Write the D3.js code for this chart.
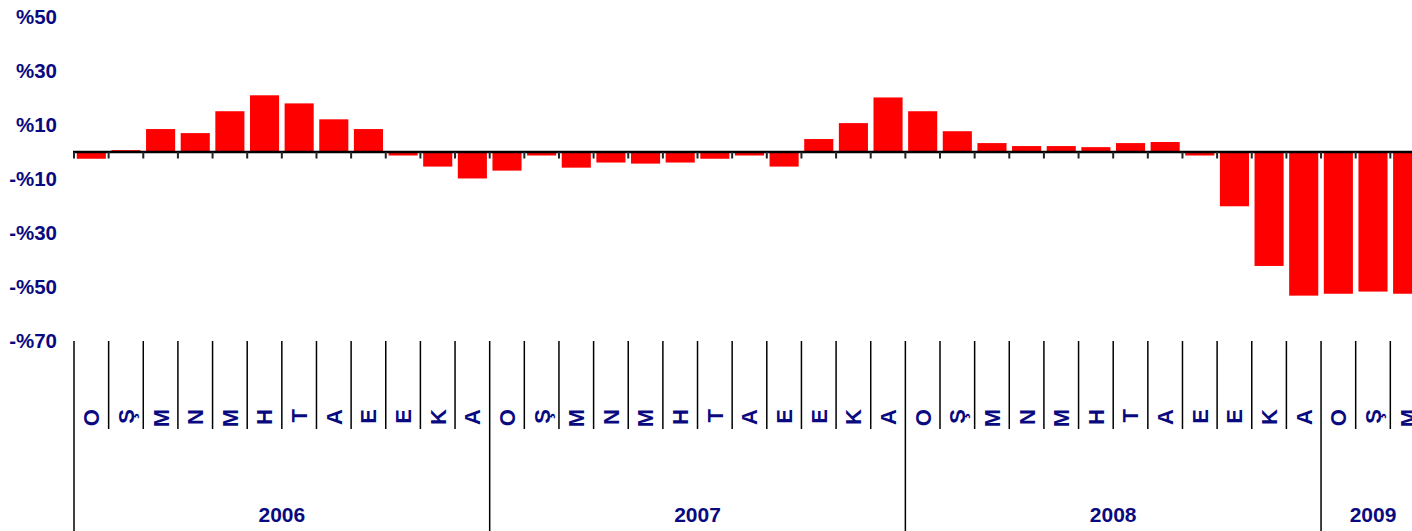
<!DOCTYPE html>
<html>
<head>
<meta charset="utf-8">
<script src="https://cdn.jsdelivr.net/npm/d3@7"></script>
<style>
  html, body { margin: 0; padding: 0; background: #fff; }
  svg { display: block; }
  text { font-family: "Liberation Sans", Arial, sans-serif; font-weight: bold; fill: #0a0a80; }
</style>
</head>
<body>
<svg id="chart" width="1412" height="531"></svg>
<script>
const years = ["2006", "2007", "2008", "2009"];
const monthLabels = ["O", "Ş", "M", "N", "M", "H", "T", "A", "E", "E", "K", "A"];
const values2006 = [-2.5, 0.7, 8.5, 7.0, 15.1, 21.0, 18.0, 12.1, 8.5, -1.3, -5.4, -9.8];
const values2007 = [-6.9, -1.3, -5.8, -3.9, -4.3, -3.9, -2.5, -1.3, -5.4, 4.8, 10.7, 20.2];
const values2008 = [15.1, 7.7, 3.3, 2.2, 2.2, 1.8, 3.3, 3.7, -1.3, -20.1, -42.2, -53.2];
const values2009 = [-52.5, -51.7, -52.5];
const yTicks = [50, 30, 10, -10, -30, -50, -70];

const seriesByYear = [values2006, values2007, values2008, values2009];
const data = [];
seriesByYear.forEach((vals, yi) => {
  vals.forEach((v, mi) => {
    data.push({ key: years[yi] + "-" + mi, year: years[yi], month: monthLabels[mi], value: v, idx: data.length });
  });
});

const svg = d3.select("#chart");
const left = 74;
const step = 34.64;
const right = left + step * data.length;
const axisBottomY = 341;

const x = d3.scaleBand()
  .domain(data.map(d => d.key))
  .range([left, right])
  .paddingInner(0.16)
  .paddingOuter(0.08);
const st = x.step();
const boundary = i => left + i * st;

const y = d3.scaleLinear().domain([-70, 50]).range([axisBottomY, 17]);

// Bars
svg.append("g").selectAll("rect").data(data).join("rect")
  .attr("x", d => x(d.key))
  .attr("width", x.bandwidth())
  .attr("y", d => d.value >= 0 ? y(d.value) : y(0))
  .attr("height", d => Math.abs(y(d.value) - y(0)))
  .attr("fill", "#ff0000");

// Zero line
svg.append("line")
  .attr("x1", left - 1).attr("x2", 1412)
  .attr("y1", y(0)).attr("y2", y(0))
  .attr("stroke", "#000").attr("stroke-width", 2.5);

// Ticks on zero line
const bIdx = d3.range(0, data.length + 1);
svg.append("g").selectAll("line").data(bIdx).join("line")
  .attr("x1", i => boundary(i)).attr("x2", i => boundary(i))
  .attr("y1", y(0)).attr("y2", y(0) + 6.5)
  .attr("stroke", "#222").attr("stroke-width", 2);

// Y labels
svg.append("g").selectAll("text").data(yTicks).join("text")
  .attr("x", 57)
  .attr("y", d => y(d))
  .attr("dy", "0.36em")
  .attr("text-anchor", "end")
  .style("font-size", "20.5px")
  .text(d => d >= 0 ? "%" + d : "-%" + (-d));

// Separator lines below
svg.append("g").selectAll("line").data(bIdx).join("line")
  .attr("x1", i => boundary(i)).attr("x2", i => boundary(i))
  .attr("y1", axisBottomY)
  .attr("y2", i => (i % 12 === 0) ? 531 : 429)
  .attr("stroke", "#000").attr("stroke-width", 1.5);

// Month labels
svg.append("g").selectAll("text").data(data).join("text")
  .attr("transform", d => `translate(${x(d.key) + x.bandwidth() / 2},409) rotate(-90)`)
  .attr("dy", "0.36em")
  .attr("text-anchor", "end")
  .style("font-size", "22px")
  .text(d => d.month);

// Year labels
svg.append("g").selectAll("text").data(years).join("text")
  .attr("x", (yr, i) => {
    const n = seriesByYear[i].length;
    const start = boundary(i * 12);
    return start + (n === 12 ? 12 : 3) * st / 2;
  })
  .attr("y", 522)
  .attr("text-anchor", "middle")
  .style("font-size", "21px")
  .text(d => d);
</script>
</body>
</html>
